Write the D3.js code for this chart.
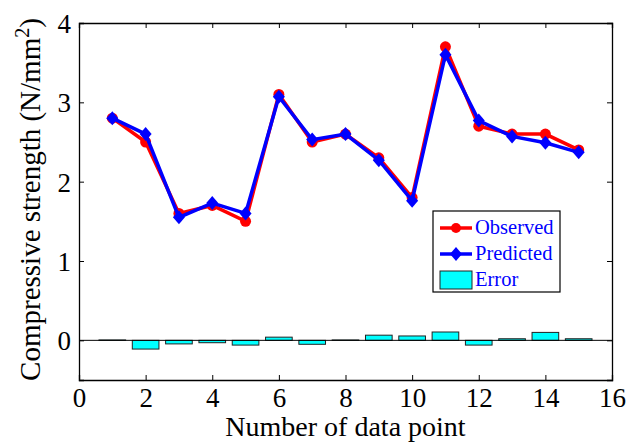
<!DOCTYPE html>
<head>
    <script src="https://d3js.org/d3.v7.min.js"></script>
    <style>
        body {margin: 0; background: #fff;}
        text {font-family: "Liberation Serif", "Times New Roman", serif;}
    </style>
</head>
<body>
</body>
<script>
  const points = d3.range(1, 16),
        observed = [2.8, 2.5, 1.6, 1.7, 1.5, 3.1, 2.5, 2.6, 2.3, 1.8, 3.7, 2.7, 2.6, 2.6, 2.4],
        predicted = [2.8, 2.6, 1.55, 1.73, 1.6, 3.07, 2.53, 2.6, 2.27, 1.76, 3.6, 2.77, 2.57, 2.49, 2.37],
        errors = [0.005, -0.11, -0.045, -0.03, -0.06, 0.04, -0.05, 0.005, 0.065, 0.055, 0.105, -0.06, 0.02, 0.1, 0.02],
        xTicks = [0, 2, 4, 6, 8, 10, 12, 14, 16],
        yTicks = [0, 1, 2, 3, 4];

  const width = 627,
        height = 447,
        margin = {top: 23, right: 15, bottom: 67, left: 79};

  const x = d3.scaleLinear().domain([0, 16]).range([margin.left, width - margin.right]);
  const y = d3.scaleLinear().domain([-0.5, 4]).range([height - margin.bottom, margin.top]);

  const svg = d3.select("body").append("svg")
      .attr("width", width)
      .attr("height", height);

  // error bars
  const bw = x(0.8) - x(0);
  svg.append("g").selectAll("rect")
      .data(errors)
    .enter().append("rect")
      .attr("x", (d, i) => x(points[i]) - bw / 2)
      .attr("y", d => y(Math.max(0, d)))
      .attr("width", bw)
      .attr("height", d => Math.abs(y(d) - y(0)))
      .attr("fill", "#00ffff")
      .attr("stroke", "#222")
      .attr("stroke-width", 1);

  // zero line
  svg.append("line")
      .attr("x1", x(0)).attr("x2", x(16))
      .attr("y1", y(0)).attr("y2", y(0))
      .attr("stroke", "#000").attr("stroke-width", 1);

  const line = d3.line().x((d, i) => x(points[i])).y(d => y(d));

  svg.append("path").datum(observed)
      .attr("d", line).attr("fill", "none")
      .attr("stroke", "#ff0000").attr("stroke-width", 3.5);
  svg.append("g").selectAll("circle").data(observed)
    .enter().append("circle")
      .attr("cx", (d, i) => x(points[i])).attr("cy", d => y(d))
      .attr("r", 5.5).attr("fill", "#ff0000");

  svg.append("path").datum(predicted)
      .attr("d", line).attr("fill", "none")
      .attr("stroke", "#0000ff").attr("stroke-width", 3.5);
  const diamond = "M0,-7L6,0L0,7L-6,0Z";
  svg.append("g").selectAll("path").data(predicted)
    .enter().append("path")
      .attr("transform", (d, i) => `translate(${x(points[i])},${y(d)})`)
      .attr("d", diamond).attr("fill", "#0000ff");

  // axes box
  const gx = svg.append("g")
      .attr("transform", `translate(0,${y(-0.5)})`)
      .call(d3.axisBottom(x).tickValues(xTicks).tickSize(-5).tickPadding(8).tickFormat(d3.format("d")));
  gx.selectAll("text").style("font-size", "27px").attr("fill", "#000");
  svg.append("g")
      .attr("transform", `translate(0,${y(4)})`)
      .call(d3.axisTop(x).tickValues(xTicks).tickSize(-5).tickFormat(""));
  const gy = svg.append("g")
      .attr("transform", `translate(${x(0)},0)`)
      .call(d3.axisLeft(y).tickValues(yTicks).tickSize(-5).tickPadding(8).tickFormat(d3.format("d")));
  gy.selectAll("text").style("font-size", "27px").attr("fill", "#000").attr("dy", "0.35em");
  svg.append("g")
      .attr("transform", `translate(${x(16)},0)`)
      .call(d3.axisRight(y).tickValues(yTicks).tickSize(-5).tickFormat(""));
  svg.selectAll(".domain").attr("stroke", "#000").attr("stroke-width", 1.3);
  svg.selectAll(".tick line").attr("stroke", "#000");

  // axis labels
  svg.append("text")
      .attr("x", (x(0) + x(16)) / 2).attr("y", 436)
      .attr("text-anchor", "middle")
      .style("font-size", "28px")
      .text("Number of data point");

  const yl = svg.append("text")
      .attr("transform", `translate(40,${(y(-0.5) + y(4)) / 2 - 2}) rotate(-90)`)
      .attr("text-anchor", "middle")
      .style("font-size", "29px");
  yl.append("tspan").text("Compressive strength (N/mm");
  yl.append("tspan").attr("dy", -11).style("font-size", "20px").text("2");
  yl.append("tspan").attr("dy", 11).text(")");

  // legend
  const lg = svg.append("g").attr("transform", "translate(433,211)");
  lg.append("rect").attr("width", 127).attr("height", 81)
      .attr("fill", "#fff").attr("stroke", "#000").attr("stroke-width", 1.2);
  const items = ["Observed", "Predicted", "Error"];
  items.forEach((name, i) => {
    const cy = 17 + i * 26;
    if (i < 2) {
      const col = i === 0 ? "#ff0000" : "#0000ff";
      lg.append("line").attr("x1", 7).attr("x2", 39).attr("y1", cy).attr("y2", cy)
          .attr("stroke", col).attr("stroke-width", 3.5);
      if (i === 0) lg.append("circle").attr("cx", 23).attr("cy", cy).attr("r", 5).attr("fill", col);
      else lg.append("path").attr("transform", `translate(23,${cy})`).attr("d", diamond).attr("fill", col);
    } else {
      lg.append("rect").attr("x", 7).attr("y", cy - 9).attr("width", 32).attr("height", 18)
          .attr("fill", "#00ffff").attr("stroke", "#222");
    }
    lg.append("text").attr("x", 42).attr("y", cy + 6)
        .style("font-size", "20.5px").attr("fill", "#0000ff").text(name);
  });
</script>
